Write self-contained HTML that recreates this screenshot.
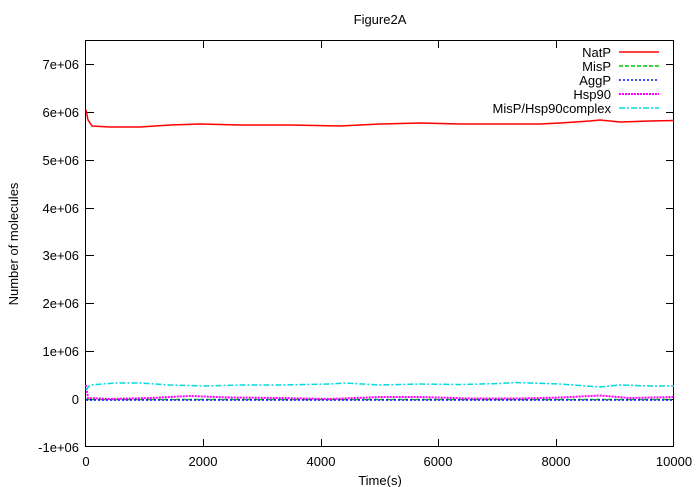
<!DOCTYPE html><html><head><style>body{margin:0;background:#fff}svg{display:block;font-family:"Liberation Sans",sans-serif;font-size:13px}</style></head><body>
<svg width="697" height="487" viewBox="0 0 697 487">
<rect width="697" height="487" fill="#fff"/>
<text x="380" y="24" text-anchor="middle">Figure2A</text>
<g stroke="#000" stroke-width="1" fill="none">
<rect x="85.5" y="40.5" width="588" height="406"/>
<path d="M86 64.5h8M674 64.5h-8M86 112.5h8M674 112.5h-8M86 160.5h8M674 160.5h-8M86 208.5h8M674 208.5h-8M86 255.5h8M674 255.5h-8M86 303.5h8M674 303.5h-8M86 351.5h8M674 351.5h-8M86 399.5h8M674 399.5h-8"/>
<path d="M203.5 447v-8M203.5 40v8M321.5 447v-8M321.5 40v8M438.5 447v-8M438.5 40v8M556.5 447v-8M556.5 40v8"/>
</g>
<g text-anchor="end">
<text x="79" y="69">7e+06</text><text x="79" y="117">6e+06</text><text x="79" y="165">5e+06</text><text x="79" y="213">4e+06</text><text x="79" y="260">3e+06</text><text x="79" y="308">2e+06</text><text x="79" y="356">1e+06</text><text x="79" y="404">0</text><text x="79" y="452">-1e+06</text>
</g>
<g text-anchor="middle">
<text x="86" y="466">0</text><text x="203" y="466">2000</text><text x="321" y="466">4000</text><text x="438" y="466">6000</text><text x="556" y="466">8000</text><text x="674" y="466">10000</text>
<text x="380" y="485">Time(s)</text>
</g>
<text transform="translate(18,244) rotate(-90)" text-anchor="middle">Number of molecules</text>
<g text-anchor="end">
<text x="611" y="57">NatP</text><text x="611" y="71">MisP</text><text x="611" y="85">AggP</text><text x="611" y="99">Hsp90</text><text x="611" y="113">MisP/Hsp90complex</text>
</g>
<g fill="none" stroke-width="1.5">
<path d="M619 52h40" stroke="#f00"/>
<path d="M619 66h40" stroke="#0c0" stroke-dasharray="4,2"/>
<path d="M619 80h40" stroke="#00f" stroke-dasharray="2,2"/>
<path d="M619 94h40" stroke="#f0f" stroke-width="2" stroke-dasharray="2,1"/>
<path d="M619 108h40" stroke="#0dd" stroke-dasharray="6,2,2,2"/>
<path d="M86 399.5H674" stroke="#0c0" stroke-dasharray="4,2"/>
<path d="M86 400H674" stroke="#00f" stroke-dasharray="2,2"/>
<path d="M86 385L88 398L110 399L150 398L190 396L230 397.5L280 398L330 399L380 397L420 397L470 398.5L520 398.5L560 397.5L600 395.5L630 398L674 397" stroke="#f0f" stroke-width="2" stroke-dasharray="2,1"/>
<path d="M86 390L90 385L115 383L140 383L170 385L205 386L240 385L280 385L330 384L345 383L380 385L420 384L460 384.5L500 383.5L515 382.5L560 384L600 387L620 385L650 386L674 386" stroke="#0dd" stroke-dasharray="6,2,2,2"/>
<path d="M86 110L88 120L92 126L110 127L140 127L170 125L200 124L240 125L290 125L340 126L380 124L420 123L460 124L500 124L540 124L560 123L590 121L600 120L620 122L650 121L674 120.5" stroke="#f00"/>
</g>
</svg>
</body></html>
